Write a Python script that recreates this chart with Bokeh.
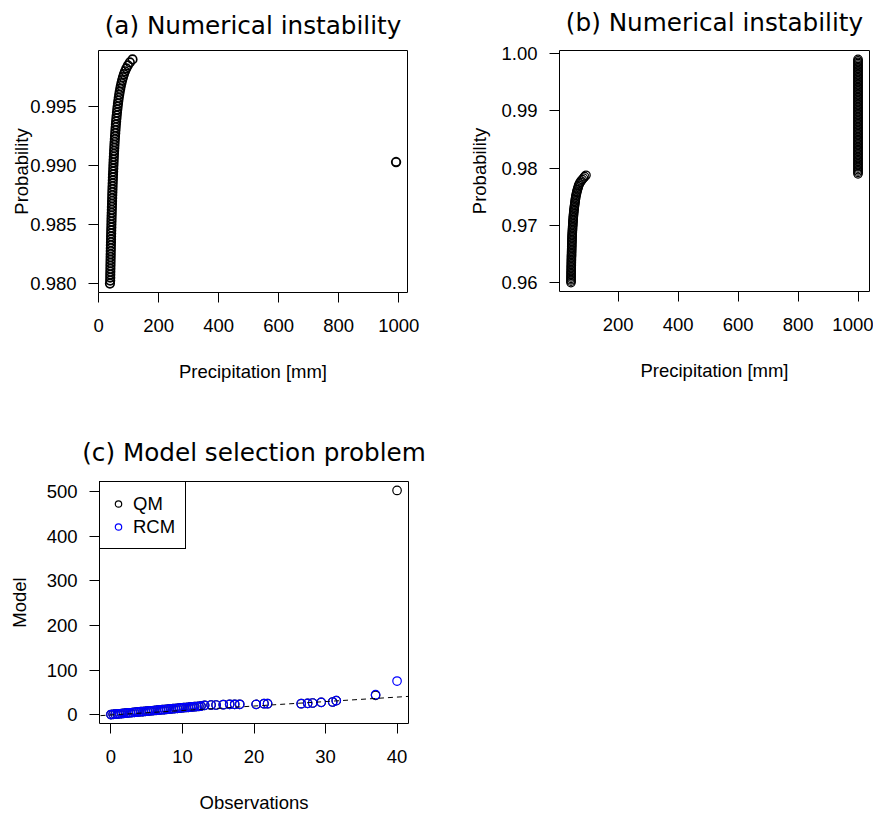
from bokeh.plotting import figure
from bokeh.models import Range1d, FixedTicker, NumeralTickFormatter, Slope, Title
from bokeh.layouts import column, row
from bokeh.embed import file_html
from bokeh.resources import INLINE

# ---------------- data ----------------
# (a) probability vs precipitation (fitted quantiles) + one unstable point
a_prob = [
    0.98000, 0.98025, 0.98050, 0.98075, 0.98100, 0.98125, 0.98150, 0.98175,
    0.98200, 0.98225, 0.98250, 0.98275, 0.98300, 0.98325, 0.98350, 0.98375,
    0.98400, 0.98425, 0.98450, 0.98475, 0.98500, 0.98525, 0.98550, 0.98575,
    0.98600, 0.98625, 0.98650, 0.98675, 0.98700, 0.98725, 0.98750, 0.98775,
    0.98800, 0.98825, 0.98850, 0.98875, 0.98900, 0.98925, 0.98950, 0.98975,
    0.99000, 0.99025, 0.99050, 0.99075, 0.99100, 0.99125, 0.99150, 0.99175,
    0.99200, 0.99225, 0.99250, 0.99275, 0.99300, 0.99325, 0.99350, 0.99375,
    0.99400, 0.99425, 0.99450, 0.99475, 0.99500, 0.99525, 0.99550, 0.99575,
    0.99600, 0.99625, 0.99650, 0.99675, 0.99700, 0.99725, 0.99750, 0.99775,
    0.99800, 0.99825, 0.99850, 0.99875, 0.99900]
a_precip = [
    38.0, 38.8, 39.0, 39.1, 39.3, 39.5, 39.7, 39.9,
    40.1, 40.3, 40.5, 40.7, 40.9, 41.1, 41.4, 41.6,
    41.8, 42.1, 42.3, 42.6, 42.8, 43.1, 43.3, 43.6,
    43.9, 44.2, 44.5, 44.8, 45.1, 45.4, 45.7, 46.0,
    46.4, 46.7, 47.1, 47.5, 47.8, 48.2, 48.7, 49.1,
    49.5, 50.0, 50.4, 50.9, 51.4, 51.9, 52.5, 53.0,
    53.6, 54.3, 54.9, 55.6, 56.3, 57.0, 57.8, 58.6,
    59.5, 60.4, 61.4, 62.4, 63.5, 64.7, 65.9, 67.3,
    68.8, 70.4, 72.2, 74.1, 76.3, 78.7, 81.4, 84.6,
    88.2, 92.6, 97.8, 104.4, 113.2]
a_out_precip = [991.0]
a_out_prob = [0.9903]

# (b) probability vs precipitation, values capped at 1000 mm
b_prob = [
    0.96000, 0.96025, 0.96050, 0.96075, 0.96100, 0.96125, 0.96150, 0.96175,
    0.96200, 0.96225, 0.96250, 0.96275, 0.96300, 0.96325, 0.96350, 0.96375,
    0.96400, 0.96425, 0.96450, 0.96475, 0.96500, 0.96525, 0.96550, 0.96575,
    0.96600, 0.96625, 0.96650, 0.96675, 0.96700, 0.96725, 0.96750, 0.96775,
    0.96800, 0.96825, 0.96850, 0.96875, 0.96900, 0.96925, 0.96950, 0.96975,
    0.97000, 0.97025, 0.97050, 0.97075, 0.97100, 0.97125, 0.97150, 0.97175,
    0.97200, 0.97225, 0.97250, 0.97275, 0.97300, 0.97325, 0.97350, 0.97375,
    0.97400, 0.97425, 0.97450, 0.97475, 0.97500, 0.97525, 0.97550, 0.97575,
    0.97600, 0.97625, 0.97650, 0.97675, 0.97700, 0.97725, 0.97750, 0.97775,
    0.97800, 0.97825, 0.97850, 0.97875]
b_precip = [
    42.5, 42.6, 42.6, 42.7, 42.8, 42.9, 42.9, 43.0,
    43.1, 43.2, 43.3, 43.4, 43.5, 43.6, 43.7, 43.8,
    43.9, 44.0, 44.1, 44.3, 44.4, 44.5, 44.6, 44.8,
    44.9, 45.0, 45.2, 45.3, 45.5, 45.7, 45.8, 46.0,
    46.2, 46.4, 46.7, 46.9, 47.2, 47.5, 47.7, 48.0,
    48.3, 48.6, 48.9, 49.3, 49.6, 50.0, 50.4, 50.8,
    51.2, 51.7, 52.2, 52.7, 53.3, 53.9, 54.5, 55.1,
    55.8, 56.5, 57.1, 57.8, 58.5, 59.5, 60.5, 61.6,
    62.8, 64.1, 65.5, 66.9, 68.5, 70.6, 73.0, 76.3,
    80.0, 84.0, 88.0, 92.5]
b_cap_prob = [
    0.97900, 0.97925, 0.97950, 0.97975,
    0.98000, 0.98025, 0.98050, 0.98075, 0.98100, 0.98125, 0.98150, 0.98175,
    0.98200, 0.98225, 0.98250, 0.98275, 0.98300, 0.98325, 0.98350, 0.98375,
    0.98400, 0.98425, 0.98450, 0.98475, 0.98500, 0.98525, 0.98550, 0.98575,
    0.98600, 0.98625, 0.98650, 0.98675, 0.98700, 0.98725, 0.98750, 0.98775,
    0.98800, 0.98825, 0.98850, 0.98875, 0.98900, 0.98925, 0.98950, 0.98975,
    0.99000, 0.99025, 0.99050, 0.99075, 0.99100, 0.99125, 0.99150, 0.99175,
    0.99200, 0.99225, 0.99250, 0.99275, 0.99300, 0.99325, 0.99350, 0.99375,
    0.99400, 0.99425, 0.99450, 0.99475, 0.99500, 0.99525, 0.99550, 0.99575,
    0.99600, 0.99625, 0.99650, 0.99675, 0.99700, 0.99725, 0.99750, 0.99775,
    0.99800, 0.99825, 0.99850, 0.99875, 0.99900]
b_cap_value = 1000.0
b_cap_precip = [b_cap_value] * len(b_cap_prob)

# (c) observations vs model (QM and RCM)
c_obs = [
    0.0, 0.3, 0.6, 0.9, 1.2, 1.5, 1.8, 2.1, 2.4, 2.7, 3.0, 3.3, 3.6, 3.9, 4.2,
    4.5, 4.8, 5.1, 5.4, 5.7, 6.0, 6.3, 6.6, 6.9, 7.2, 7.5, 7.8, 8.1, 8.4, 8.7,
    9.0, 9.3, 9.6, 9.9, 10.2, 10.5, 10.8, 11.1, 11.4, 11.7, 12.0, 12.3, 12.6,
    13.1, 14.0, 14.7, 15.7, 16.6, 17.3, 18.0, 20.3, 21.4, 21.9, 26.6, 27.5,
    28.2, 29.4, 31.0, 31.5, 37.0, 40.0]
c_rcm = [
    1.0, 1.4, 1.9, 2.3, 2.8, 3.2, 3.7, 4.1, 4.6, 5.0, 5.5, 5.9, 6.4, 6.8, 7.3,
    7.7, 8.2, 8.6, 9.1, 9.5, 10.0, 10.4, 10.9, 11.3, 11.8, 12.2, 12.7, 13.1, 13.6, 14.0,
    14.5, 14.9, 15.4, 15.8, 16.3, 16.7, 17.2, 17.6, 18.1, 18.5, 19.0, 19.4, 19.9,
    21.6, 22.3, 22.3, 23.0, 23.9, 23.9, 23.9, 23.8, 25.2, 25.2, 25.2, 26.1,
    26.8, 28.3, 29.0, 32.0, 45.3, 75.9]
c_qm_tail = [44.0, 502.0]
c_qm = c_rcm[:-2] + c_qm_tail

# titles and axis ticks
titles = ["(a) Numerical instability", "(b) Numerical instability",
          "(c) Model selection problem"]
a_xticks = [0, 200, 400, 600, 800, 1000]
a_yticks = [0.980, 0.985, 0.990, 0.995]
b_xticks = [200, 400, 600, 800, 1000]
b_yticks = [0.96, 0.97, 0.98, 0.99, 1.00]
c_xticks = [0, 10, 20, 30, 40]
c_yticks = [0, 100, 200, 300, 400, 500]

# ---------------- style ----------------
LAB_FONT = "Liberation Sans"
LAB_SIZE = "18.5px"
TITLE_FONT = "DejaVu Sans"
TITLE_SIZE = "24.7px"
PT = 8.5
LW = 1.2


def padded(values):
    lo, hi = min(values), max(values)
    span = hi - lo
    return Range1d(lo - 0.04 * span, hi + 0.04 * span)


def make_fig(title, xr, yr, fw, fh, bl, bt, br, bb, t_gap):
    p = figure(x_range=xr, y_range=yr, title=None,
               frame_width=fw, frame_height=fh,
               min_border_left=bl, min_border_top=bt,
               min_border_right=br, min_border_bottom=bb,
               output_backend="svg", toolbar_location=None, tools="")
    p.outline_line_color = "black"
    p.outline_line_alpha = 1.0
    p.outline_line_width = 1
    p.xgrid.visible = False
    p.ygrid.visible = False
    p.background_fill_color = "white"
    p.border_fill_color = "white"
    # invisible spacer between frame and title, then the title itself
    p.add_layout(Title(text=" ", text_font_size="1px", standoff=t_gap), "above")
    p.add_layout(Title(text=title, align="center", text_font=TITLE_FONT,
                       text_font_size=TITLE_SIZE, text_font_style="normal",
                       text_color="black", standoff=0), "above")
    return p


def style_axes(p, xlabel, ylabel, xticks, yticks, yfmt, ylab_standoff):
    for ax in (p.xaxis[0], p.yaxis[0]):
        ax.axis_line_color = None
        ax.major_tick_in = 0
        ax.major_tick_out = 10
        ax.major_tick_line_color = "black"
        ax.major_tick_line_width = 1
        ax.minor_tick_line_color = None
        ax.major_label_text_font = LAB_FONT
        ax.major_label_text_font_size = LAB_SIZE
        ax.major_label_text_color = "black"
        ax.axis_label_text_font = LAB_FONT
        ax.axis_label_text_font_size = LAB_SIZE
        ax.axis_label_text_font_style = "normal"
        ax.axis_label_text_color = "black"
    p.xaxis[0].major_label_standoff = 16
    p.yaxis[0].major_label_standoff = 12
    p.xaxis[0].axis_label = xlabel
    p.yaxis[0].axis_label = ylabel
    p.xaxis[0].ticker = FixedTicker(ticks=xticks)
    p.yaxis[0].ticker = FixedTicker(ticks=yticks)
    p.yaxis[0].major_label_orientation = "horizontal"
    if yfmt:
        p.yaxis[0].formatter = NumeralTickFormatter(format=yfmt)
    p.xaxis[0].axis_label_standoff = 26
    p.yaxis[0].axis_label_standoff = ylab_standoff


# ---------------- (a) ----------------
pa = make_fig(titles[0],
              padded(a_precip + a_out_precip), padded(a_prob + a_out_prob),
              309, 242, 98, 47, 31, 111, 8)
style_axes(pa, "Precipitation [mm]", "Probability", a_xticks, a_yticks, "0.000", -5)
pa.scatter(a_precip, a_prob, marker="circle", size=PT, fill_color=None,
           line_color="black", line_width=1.7)
pa.scatter(a_out_precip, a_out_prob, marker="circle", size=PT, fill_color=None,
           line_color="black", line_width=1.9)

# ---------------- (b) ----------------
pb = make_fig(titles[1],
              padded(b_precip + b_cap_precip), padded(b_prob + b_cap_prob),
              310, 241, 121, 50, 4, 109, 11)
style_axes(pb, "Precipitation [mm]", "Probability", b_xticks, b_yticks, "0.00", 8)
pb.scatter(b_precip, b_prob, marker="circle", size=PT, fill_color=None,
           line_color="black", line_width=LW)
pb.scatter(b_cap_precip, b_cap_prob, marker="circle", size=PT, fill_color=None,
           line_color="black", line_width=LW)

# ---------------- (c) ----------------
pc = make_fig(titles[2],
              padded(c_obs), padded(c_qm + c_rcm),
              309, 242, 99, 81, 30, 86, 12)
style_axes(pc, "Observations", "Model", c_xticks, c_yticks, None, 14)
pc.add_layout(Slope(gradient=1, y_intercept=0, line_color="black",
                    line_dash="5 4", line_width=1))
pc.scatter(c_obs, c_qm, marker="circle", size=PT, fill_color=None,
           line_color="black", line_width=LW, legend_label="QM")
pc.scatter(c_obs, c_rcm, marker="circle", size=PT, fill_color=None,
           line_color="blue", line_width=LW, legend_label="RCM")
lg = pc.legend[0]
lg.location = "top_left"
lg.margin = 0
lg.padding = 10
lg.spacing = 0
lg.glyph_width = 16
lg.glyph_height = 23
lg.label_height = 23
lg.label_standoff = 7
lg.label_text_font = LAB_FONT
lg.label_text_font_size = LAB_SIZE
lg.label_text_color = "black"
lg.border_line_color = "black"
lg.border_line_width = 1
lg.border_line_alpha = 1.0
lg.background_fill_color = "white"
lg.background_fill_alpha = 1.0

layout = column(row(pa, pb), pc)

html = file_html(layout, INLINE, title="Numerical instability")
html = html.replace("</head>", "<style>html,body{overflow:hidden !important;}</style></head>", 1)
open("out.html", "w").write(html)
